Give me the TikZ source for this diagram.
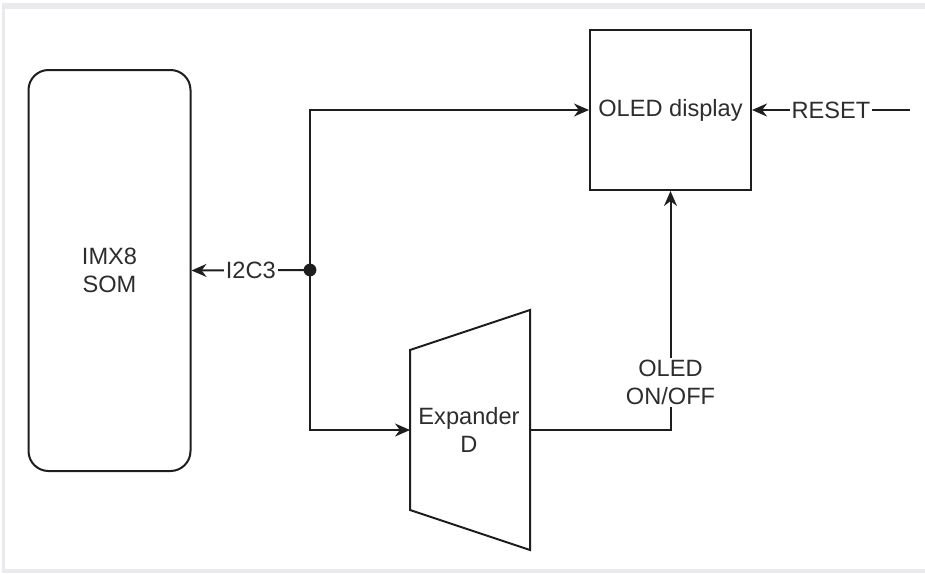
\documentclass[tikz,border=0pt]{standalone}
\usepackage{fontspec}
\setmainfont{Liberation Sans}
\usetikzlibrary{arrows.meta}
\definecolor{framegray}{RGB}{232,234,237}
\definecolor{linegray}{RGB}{30,30,30}
\definecolor{textgray}{RGB}{45,45,45}
\begin{document}
\begin{tikzpicture}[x=0.5pt,y=-0.5pt,>={Stealth[length=7.5pt,width=6.5pt]},
    font=\fontsize{11.8}{14.2}\selectfont,
    box/.style={draw=linegray,line width=1pt,fill=white,text=textgray,align=center,inner sep=0pt},
    wire/.style={draw=linegray,line width=1pt},
    lbl/.style={fill=white,text=textgray,inner sep=1pt,align=center}]
    % Khung nền
    \useasboundingbox (0,0) rectangle (925,573);
    \fill[white] (0,0) rectangle (925,573);
    \fill[framegray] (2,3) rectangle (925,573);
    \fill[white] (5,9) rectangle (925,569);
    % Các khối
    \node[box,rounded corners=10pt,minimum width=81pt,minimum height=200.5pt] (som) at (109.5,270.5) {IMX8\\SOM};
    \node[box,minimum width=80.5pt,minimum height=80pt] (oled) at (670.5,110) {OLED display};
    % Bộ mở rộng (hình thang)
    \draw[wire,fill=white] (410,350) -- (530,310) -- (530,550) -- (410,510) -- cycle;
    \node[text=textgray,align=center] (exp) at (469,430) {Expander\\D};
    \coordinate (expin) at (410,430);
    \coordinate (expout) at (530,430);
    % Điểm nối và đường RESET
    \coordinate (jn) at (310,270);
    \coordinate (rst) at (910,110);
    % Các đường nối
    \draw[wire,->] (jn) -- node[lbl] {I2C3} (som.east);
    \draw[wire,->] (jn) |- (oled.west);
    \draw[wire,->] (jn) |- (expin);
    \draw[wire,->] (expout) -| node[lbl,pos=0.6] {OLED\\ON/OFF} (oled.south);
    \draw[wire,->] (rst) -- node[lbl] {RESET} (oled.east);
    \fill[linegray] (jn) circle (3.2pt);
\end{tikzpicture}
\end{document}
